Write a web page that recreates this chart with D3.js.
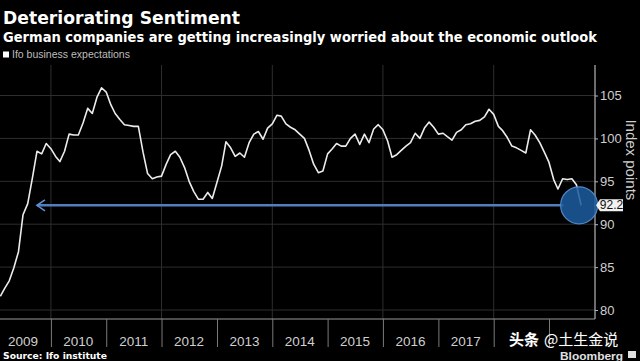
<!DOCTYPE html>
<html>
<head>
<meta charset="utf-8">
<script src="https://cdn.jsdelivr.net/npm/d3@7/dist/d3.min.js"></script>
<style>
  html, body { margin: 0; padding: 0; background: #000; }
  svg { display: block; }
</style>
</head>
<body>
<svg id="chart" width="640" height="361"></svg>
<script>
// ---- Data ----
const title = "Deteriorating Sentiment";
const subtitle = "German companies are getting increasingly worried about the economic outlook";
const legendLabel = "Ifo business expectations";
const sourceText = "Source: Ifo institute";
const firstMonth = "2009-01";   // first monthly observation
// Ifo business expectations, monthly, Jan 2009 – Jul 2019
const values2009 = [81.6, 82.5, 83.4, 84.9, 86.8, 91.1, 92.4, 95.4, 98.5, 98.2, 99.4, 98.8];
const values2010 = [97.9, 97.3, 98.5, 100.5, 100.4, 100.4, 101.8, 103.5, 102.9, 104.8, 105.9, 105.4];
const values2011 = [103.9, 102.9, 102.2, 101.6, 101.5, 101.4, 101.4, 98.4, 95.9, 95.3, 95.5, 95.6];
const values2012 = [97.0, 98.1, 98.5, 97.8, 96.6, 95.0, 93.8, 92.9, 92.9, 93.7, 93.0, 94.9];
const values2013 = [96.8, 99.6, 98.9, 97.9, 98.3, 97.8, 99.5, 100.5, 100.8, 99.9, 101.2, 101.7];
const values2014 = [102.7, 102.6, 101.7, 101.3, 101.0, 100.5, 100.0, 98.6, 97.0, 96.0, 96.2, 98.2];
const values2015 = [98.8, 99.4, 99.1, 99.1, 100.0, 100.5, 99.3, 100.5, 99.5, 101.1, 101.6, 101.0];
const values2016 = [99.7, 97.8, 98.1, 98.6, 99.1, 99.5, 100.6, 100.0, 101.2, 101.9, 101.3, 100.5];
const values2017 = [100.6, 100.2, 99.8, 100.7, 101.0, 101.6, 101.7, 102.0, 102.1, 102.5, 103.4, 102.8];
const values2018 = [101.4, 100.9, 100.1, 99.1, 98.9, 98.6, 98.3, 101.0, 100.4, 99.5, 98.4, 97.2];
const values2019 = [95.2, 94.1, 95.3, 95.2, 95.3, 94.6, 92.2];
const latestValue = 92.2;
const arrowStartMonth = "2009-10";
const yTicks = [80, 85, 90, 95, 100, 105];
const yearLabels = ["2009", "2010", "2011", "2012", "2013", "2014", "2015", "2016", "2017"];
const yearDividers = ["2010", "2011", "2012", "2013", "2014", "2015", "2016", "2017", "2018", "2019"];
const gridYears = ["2010", "2012", "2014", "2016", "2018"];
const yAxisTitle = "Index points";
const watermarkA = "头条";
const watermarkB = "@土生金说";
const brand = "Bloomberg";

// ---- Build series ----
const allValues = [].concat(values2009, values2010, values2011, values2012, values2013,
  values2014, values2015, values2016, values2017, values2018, values2019);
const parseMonth = d3.timeParse("%Y-%m");
const parseYear = d3.timeParse("%Y");
const start = parseMonth(firstMonth);
// each monthly value plotted at the end of its month
const series = allValues.map((v, i) => ({ date: d3.timeMonth.offset(start, i + 1), value: v }));

// ---- Layout ----
const plotLeft = -4.4, plotRight = 595, plotTop = 65, plotBottom = 319;
const svg = d3.select("#chart");
svg.append("rect").attr("width", 640).attr("height", 361).attr("fill", "#000");

const x = d3.scaleTime()
  .domain([parseYear("2009"), parseYear("2019")])
  .range([plotLeft, 549]);
const y = d3.scaleLinear().domain([80, 105]).range([310, 95.5]);

const narrow = "'Liberation Sans Narrow', 'Arial Narrow', 'Liberation Sans', Arial, sans-serif";
const bold = "'DejaVu Sans', Verdana, sans-serif";

// Titles
svg.append("text").text(title)
  .attr("x", 3).attr("y", 24)
  .attr("font-family", bold).attr("font-weight", "bold").attr("font-size", 18)
  .attr("fill", "#ffffff").attr("textLength", 237).attr("lengthAdjust", "spacingAndGlyphs");
svg.append("text").text(subtitle)
  .attr("x", 3).attr("y", 42)
  .attr("font-family", bold).attr("font-weight", "bold").attr("font-size", 13.5)
  .attr("fill", "#ffffff").attr("textLength", 594).attr("lengthAdjust", "spacingAndGlyphs");

// Legend
svg.append("rect").attr("x", 3).attr("y", 51.5).attr("width", 6).attr("height", 6).attr("fill", "#fff");
svg.append("text").text(legendLabel)
  .attr("x", 12).attr("y", 58)
  .attr("font-family", narrow).attr("font-size", 10.5).attr("fill", "#bdbdbd");

// Gridlines
const grid = svg.append("g");
grid.selectAll("line.h").data(yTicks).join("line")
  .attr("x1", 0).attr("x2", plotRight)
  .attr("y1", d => y(d)).attr("y2", d => y(d))
  .attr("stroke", "#2e2e2e").attr("stroke-width", 1);
grid.selectAll("line.v").data(gridYears.map(parseYear)).join("line")
  .attr("x1", d => x(d)).attr("x2", d => x(d))
  .attr("y1", plotTop).attr("y2", plotBottom)
  .attr("stroke", "#2e2e2e").attr("stroke-width", 1);

// Bottom axis
const xAxisG = svg.append("g").attr("transform", `translate(0,${plotBottom})`);
xAxisG.append("line").attr("x1", 0).attr("x2", plotRight).attr("y1", 0).attr("y2", 0)
  .attr("stroke", "#9a9a9a").attr("stroke-width", 1.2);
const xAxis = d3.axisBottom(x)
  .tickValues(yearDividers.map(parseYear))
  .tickSize(28).tickFormat("");
xAxisG.call(xAxis);
xAxisG.select(".domain").remove();
xAxisG.selectAll(".tick line").attr("stroke", "#7a7a7a").attr("stroke-width", 1);
xAxisG.selectAll("text.year").data(yearLabels).join("text")
  .attr("class", "year")
  .attr("x", d => x(d3.timeMonth.offset(parseYear(d), 6)))
  .attr("y", 27)
  .attr("text-anchor", "middle")
  .attr("font-family", narrow).attr("font-size", 13.5).attr("fill", "#cfcfcf")
  .text(d => d);

// Right axis
const yAxisG = svg.append("g").attr("transform", `translate(${plotRight},0)`);
yAxisG.append("line").attr("x1", 0).attr("x2", 0).attr("y1", plotTop).attr("y2", plotBottom)
  .attr("stroke", "#b5b5b5").attr("stroke-width", 1.2);
const yAxis = d3.axisRight(y).tickValues(yTicks).tickSize(3).tickPadding(2);
yAxisG.call(yAxis);
yAxisG.select(".domain").remove();
yAxisG.selectAll(".tick line").attr("stroke", "#b5b5b5");
yAxisG.selectAll(".tick text")
  .attr("font-family", narrow).attr("font-size", 13).attr("fill", "#cfcfcf");

svg.append("text").text(yAxisTitle)
  .attr("transform", `translate(626,${y(97.5)}) rotate(90)`)
  .attr("text-anchor", "middle")
  .attr("font-family", narrow).attr("font-size", 15).attr("fill", "#cfcfcf");

// Arrow annotation at the latest value
const lastPt = series[series.length - 1];
const ly = y(latestValue);
const circleR = 18.5;
const arrowX = x(parseMonth(arrowStartMonth));
svg.append("line")
  .attr("x1", arrowX).attr("x2", x(lastPt.date) - circleR + 1)
  .attr("y1", ly).attr("y2", ly)
  .attr("stroke", "#4f7fbf").attr("stroke-width", 2.4);
svg.append("path")
  .attr("d", `M${arrowX + 8},${ly - 5.5} L${arrowX},${ly} L${arrowX + 8},${ly + 5.5}`)
  .attr("fill", "none").attr("stroke", "#5f8fcf").attr("stroke-width", 1.6);

// Line
const line = d3.line().x(d => x(d.date)).y(d => y(d.value)).curve(d3.curveLinear);
svg.append("path").datum(series)
  .attr("d", line)
  .attr("fill", "none").attr("stroke", "#ececec").attr("stroke-width", 1.6)
  .attr("stroke-linejoin", "round");

// Circle highlight
svg.append("circle")
  .attr("cx", x(lastPt.date) - 2).attr("cy", ly).attr("r", circleR)
  .attr("fill", "#1d5c9e").attr("fill-opacity", 0.86)
  .attr("stroke", "#4f86c6").attr("stroke-width", 1.2);

// Value tag
const tagX = plotRight + 1;
svg.append("path")
  .attr("d", `M${tagX},${ly} L${tagX + 4},${ly - 6} L${tagX + 27},${ly - 6} L${tagX + 27},${ly + 6} L${tagX + 4},${ly + 6} Z`)
  .attr("fill", "#f2f2f2");
svg.append("text").text(latestValue.toFixed(1))
  .attr("x", tagX + 15.5).attr("y", ly + 4)
  .attr("text-anchor", "middle")
  .attr("font-family", narrow).attr("font-size", 12).attr("fill", "#111");

// Footer
svg.append("text").text(sourceText)
  .attr("x", 3).attr("y", 359)
  .attr("font-family", bold).attr("font-weight", "bold").attr("font-size", 9.5)
  .attr("fill", "#ffffff").attr("textLength", 104).attr("lengthAdjust", "spacingAndGlyphs");
svg.append("text").text(brand)
  .attr("x", 560).attr("y", 360)
  .attr("font-family", "'Liberation Sans', Arial, sans-serif").attr("font-weight", "bold").attr("font-size", 11.5)
  .attr("fill", "#e0e0e0").attr("textLength", 63).attr("lengthAdjust", "spacingAndGlyphs");
svg.append("rect").attr("x", 628).attr("y", 351).attr("width", 8).attr("height", 7)
  .attr("fill", "#e0e0e0");

// Watermark
const wm = svg.append("text").attr("x", 509).attr("y", 345)
  .attr("font-family", "'Noto Sans CJK SC', sans-serif").attr("font-size", 15)
  .attr("fill", "#ffffff").attr("stroke", "#333").attr("stroke-width", 0.4)
  .attr("paint-order", "stroke");
wm.append("tspan").attr("font-weight", "bold").text(watermarkA);
wm.append("tspan").attr("dx", 5).text(watermarkB);
</script>
</body>
</html>
